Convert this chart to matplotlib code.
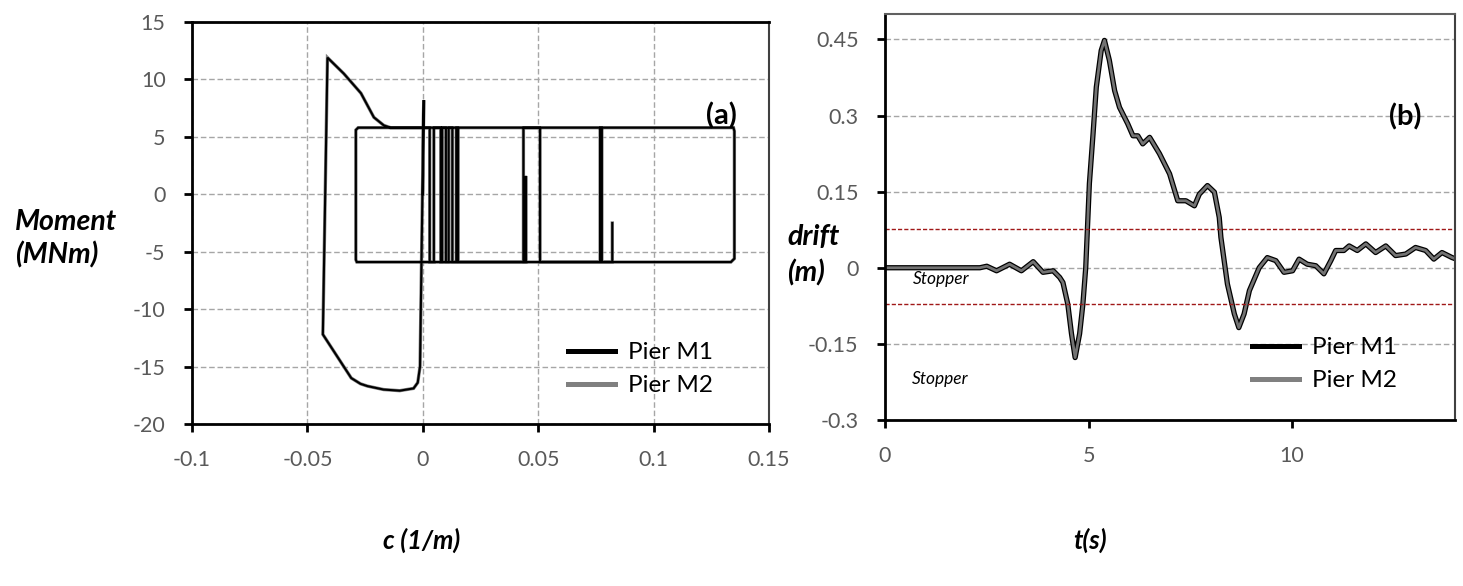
import matplotlib
matplotlib.use("Agg")
import matplotlib.pyplot as plt
from matplotlib.lines import Line2D

plt.rcParams['font.family'] = ['Lato', 'DejaVu Sans']
plt.rcParams['axes.unicode_minus'] = False

# ---- (a) moment-curvature response of the piers ----
curv_m1 = [0.0, 0.0004, -0.0012, -0.0022, -0.004, -0.010, -0.017, -0.024, -0.027,
           -0.031, -0.0433, -0.0413, -0.0342, -0.0268, -0.0212, -0.0169, -0.0140,
           0.1346, 0.1350, 0.1350, 0.1335, -0.0286, -0.0290, -0.0290, -0.0280,
           0.0030, 0.0030, 0.0048, 0.0048, 0.0078, 0.0078, 0.0084, 0.0084,
           0.0100, 0.0100, 0.0112, 0.0112, 0.0128, 0.0128, 0.0145, 0.0145,
           0.0153, 0.0153, 0.0446, 0.0446, 0.0446, 0.0436, 0.0436, 0.0508,
           0.0508, 0.0768, 0.0768, 0.0776, 0.0776, 0.0821, 0.0821]
moment_m1 = [0.0, 8.2, -15.0, -16.4, -16.9, -17.1, -17.0, -16.7, -16.5,
             -16.0, -12.2, 11.9, 10.5, 8.8, 6.7, 6.0, 5.8,
             5.8, 5.5, -5.6, -5.9, -5.9, -5.7, 5.6, 5.8,
             5.8, -5.9, -5.9, 5.8, 5.8, -5.9, -5.9, 5.8,
             5.8, -5.9, -5.9, 5.8, 5.8, -5.9, -5.9, 5.8,
             5.8, -5.9, -5.9, 1.6, -5.9, -5.9, 5.8, 5.8,
             -5.9, -5.9, 5.8, 5.8, -5.9, -5.9, -2.5]
curv_m2 = curv_m1
moment_m2 = moment_m1

curv_ticks = [-0.1, -0.05, 0, 0.05, 0.1, 0.15]
curv_ticklabels = ['-0.1', '-0.05', '0', '0.05', '0.1', '0.15']
moment_ticks = [15, 10, 5, 0, -5, -10, -15, -20]

# ---- (b) drift time history ----
time_s = [0, 2.33, 2.5, 2.74, 3.06, 3.35, 3.64, 3.88, 4.13, 4.29, 4.37, 4.49,
          4.58, 4.67, 4.78, 4.86, 4.93, 5.02, 5.11, 5.19, 5.31, 5.39, 5.51,
          5.64, 5.76, 5.96, 6.09, 6.21, 6.33, 6.5, 6.74, 6.99, 7.19, 7.39,
          7.6, 7.72, 7.92, 8.09, 8.21, 8.25, 8.41, 8.58, 8.69, 8.82, 8.95,
          9.19, 9.39, 9.6, 9.8, 10.01, 10.17, 10.37, 10.58, 10.78, 10.95,
          11.07, 11.27, 11.4, 11.6, 11.81, 12.05, 12.3, 12.54, 12.79, 13.03,
          13.28, 13.48, 13.68, 13.93, 14.0]
drift_m1 = [0, 0, 0.003, -0.006, 0.007, -0.006, 0.012, -0.009, -0.006, -0.019,
            -0.029, -0.072, -0.13, -0.177, -0.13, -0.072, 0.0, 0.166, 0.264,
            0.356, 0.428, 0.448, 0.409, 0.349, 0.316, 0.284, 0.26, 0.26, 0.244,
            0.257, 0.225, 0.185, 0.132, 0.132, 0.122, 0.145, 0.162, 0.149,
            0.099, 0.06, -0.032, -0.091, -0.118, -0.091, -0.045, 0.0, 0.02,
            0.014, -0.009, -0.006, 0.017, 0.007, 0.004, -0.012, 0.014, 0.034,
            0.034, 0.043, 0.034, 0.047, 0.030, 0.043, 0.024, 0.027, 0.040,
            0.034, 0.017, 0.030, 0.020, 0.018]
drift_m2 = drift_m1
stopper_gap = [0.076, -0.071]

time_ticks = [0, 5, 10]
drift_ticks = [0.45, 0.3, 0.15, 0, -0.15, -0.3]
drift_ticklabels = ['0.45', '0.3', '0.15', '0', '-0.15', '-0.3']

series_labels = ['Pier M1', 'Pier M2']
colors = ['black', '#808080']

W, H = 1463, 586
fig = plt.figure(figsize=(W / 100, H / 100), dpi=100)

def frac(x0, y0, x1, y1):
    return [x0 / W, 1 - y1 / H, (x1 - x0) / W, (y1 - y0) / H]

ax1 = fig.add_axes(frac(192, 22, 769, 424))
ax2 = fig.add_axes(frac(885, 14, 1455, 420))

tick_color = '#595959'
grid_kw = dict(color='#a6a6a6', linestyle=(0, (4, 2)), linewidth=1.0)

for ax in (ax1, ax2):
    ax.tick_params(direction='out', length=6, width=2, pad=13,
                   labelsize=15.5, labelcolor=tick_color, color='black')
    ax.spines['left'].set_linewidth(2)
    ax.spines['bottom'].set_linewidth(2)
    ax.spines['top'].set_linewidth(1.5)
    ax.spines['right'].set_linewidth(1.5)
    ax.spines['right'].set_color('#404040')
    ax.set_axisbelow(True)

# (a)
ax1.spines['top'].set_color('black')
ax1.spines['top'].set_linewidth(2)
ax1.plot(curv_m2, moment_m2, color=colors[1], lw=2.4, solid_joinstyle='miter')
ax1.plot(curv_m1, moment_m1, color=colors[0], lw=1.5, solid_joinstyle='miter')
ax1.set_xlim(-0.1, 0.15)
ax1.set_ylim(-20, 15)
ax1.set_xticks(curv_ticks)
ax1.set_xticklabels(curv_ticklabels)
ax1.set_yticks(moment_ticks)
ax1.grid(True, axis='both', **grid_kw)
ax1.text(0.917, 0.766, '(a)', transform=ax1.transAxes, ha='center',
         va='center', fontsize=21, fontweight='bold')

# (b)
ax2.spines['top'].set_color('#606060')
ax2.plot(time_s, drift_m1, color=colors[0], lw=3.8)
ax2.plot(time_s, drift_m2, color='#737373', lw=2.0)
for g in stopper_gap:
    ax2.axhline(g, color='#a01818', lw=1.0, linestyle=(0, (3, 1.5)))
ax2.set_xlim(0, 14)
ax2.set_ylim(-0.3, 0.5)
ax2.set_xticks(time_ticks)
ax2.set_yticks(drift_ticks)
ax2.set_yticklabels(drift_ticklabels)
ax2.grid(True, axis='y', **grid_kw)
ax2.text(0.912, 0.746, '(b)', transform=ax2.transAxes, ha='center',
         va='center', fontsize=21, fontweight='bold')
ax2.text(0.69, -0.022, 'Stopper', ha='left', va='center', fontsize=12.5,
         style='italic')
ax2.text(0.66, -0.219, 'Stopper', ha='left', va='center', fontsize=12.5,
         style='italic')

# legends
handles = [Line2D([], [], color=c, lw=3.6) for c in colors]
leg_kw = dict(frameon=False, fontsize=17.5, handlelength=1.95, handletextpad=0.5,
              labelspacing=0.5, borderpad=0, borderaxespad=0, loc='upper left')
fig.legend(handles, series_labels, bbox_to_anchor=(568 / W, 1 - 342 / H), **leg_kw)
fig.legend(handles, series_labels, bbox_to_anchor=(1252 / W, 1 - 337 / H), **leg_kw)

# axis titles
fig.text(422 / W, 1 - 540 / H, 'c (1/m)', ha='center', va='center',
         fontsize=18.5, fontweight='bold', style='italic')
fig.text(1090 / W, 1 - 540 / H, 't(s)', ha='center', va='center',
         fontsize=18.5, fontweight='bold', style='italic')
lab_kw = dict(fontsize=20.5, fontweight='bold', style='italic')
fig.text(15 / W, 1 - 222 / H, 'Moment', ha='left', va='center', **lab_kw)
fig.text(15 / W, 1 - 255 / H, '(MNm)', ha='left', va='center', **lab_kw)
fig.text(787 / W, 1 - 237 / H, 'drift', ha='left', va='center', **lab_kw)
fig.text(787 / W, 1 - 273 / H, '(m)', ha='left', va='center', **lab_kw)

fig.savefig('out.png', dpi=100)
